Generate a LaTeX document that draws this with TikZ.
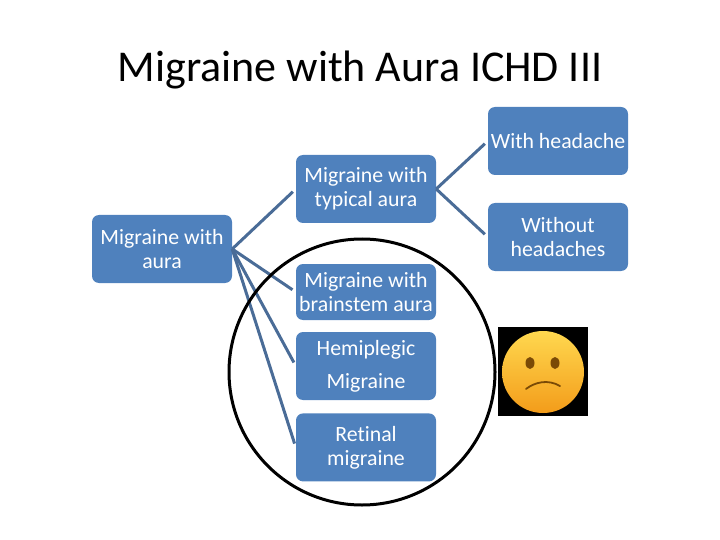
\documentclass[tikz,border=0pt]{standalone}
\usepackage{fontspec}
\setmainfont{Carlito}[Ligatures=NoCommon]
\usetikzlibrary{positioning}
\definecolor{boxblue}{HTML}{4F81BD}
\definecolor{linkblue}{HTML}{4A6C97}
\definecolor{facetop}{HTML}{FFD84F}
\definecolor{facebot}{HTML}{F39C1A}
\definecolor{eyebrown}{HTML}{7A4A06}

\begin{document}
\begin{tikzpicture}[
  x=1pt, y=-1pt,
  box/.style   = {draw=none, rounded corners=7pt, fill=boxblue, text=white,
                  minimum width=140pt, minimum height=68pt, inner sep=0pt,
                  font=\fontsize{21.8}{24}\selectfont, align=center},
  link/.style  = {draw=linkblue, line width=3pt, shorten >=4pt},
  ring/.style  = {draw=black, line width=3pt},
  node distance = 13pt,
]
\useasboundingbox (0,0) rectangle (720,540);

% Title
\node[font=\fontsize{44}{50}\selectfont] (title) at (360,70) {Migraine with Aura ICHD III};

% Boxes, left to right
\node[box] (aura) at (162,249) {Migraine with\\aura};
\node[box] (typ)  at (366,189) {Migraine with\\typical aura};
\node[box, minimum height=56pt] (stem) at (366,292) {Migraine with\\brainstem aura};
\node[box, font=\fontsize{21.8}{33}\selectfont] (hemi) at (366,366) {Hemiplegic\\Migraine};
\node[box, below=of hemi] (ret) {Retinal\\migraine};
\node[box] (with) at (558,141) {With headache};
\node[box] (wout) at (558,237) {Without\\headaches};

% Connectors
\draw[link] (aura.east) -- (typ.west);
\draw[link] (aura.east) -- (stem.west);
\draw[link] (aura.east) -- (hemi.west);
\draw[link] (aura.east) -- (ret.west);
\draw[link] (typ.east) -- (with.west);
\draw[link] (typ.east) -- (wout.west);

% Ring round the last three
\draw[ring] (362,372) circle (133);

% Face
\fill[black] (498,327) rectangle (588,416);
\shade[top color=facetop, bottom color=facebot] (543,372) circle (41);
\fill[eyebrown] (530,363) ellipse (4.5 and 6);
\fill[eyebrown] (555,363) ellipse (4.5 and 6);
\draw[eyebrown, line width=1.8pt, line cap=round] (526,389) .. controls (535,382) and (548,379) .. (560,386);

\end{tikzpicture}
\end{document}
